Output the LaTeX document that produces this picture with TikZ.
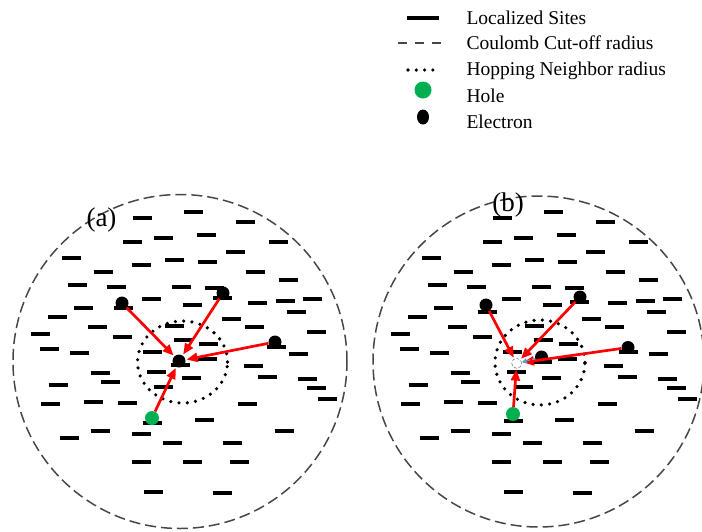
\documentclass[tikz,border=0pt]{standalone}
\usepackage{fontspec}
\setmainfont{Liberation Serif}
\usetikzlibrary{arrows.meta,shapes.geometric}
\definecolor{holegreen}{RGB}{0,176,80}
\definecolor{hopblue}{RGB}{91,155,213}

\begin{document}
\begin{tikzpicture}[x=1pt, y=-1pt,
	every node/.style={font=\fontsize{19.5}{23}\selectfont},
	>={Triangle[length=11pt,width=9pt]},
	site/.style={line width=3.6pt},
	cutoff/.style={black!72, line width=1.5pt, dash pattern=on 11pt off 5pt},
	hopline/.style={line width=3.6pt, line cap=round, dash pattern=on 0pt off 8.3pt},
	electron/.style={ellipse, fill=black, minimum width=13pt, minimum height=13pt, inner sep=0pt},
	hole/.style={circle, fill=holegreen, minimum size=14pt, inner sep=0pt},
	hop/.style={->, red, line width=2.7pt, shorten >=1pt}]
	\useasboundingbox (0,0) rectangle (702,531);

	% legend
	\draw[site, line width=4pt] (407,18) -- (439,18);
	\draw[cutoff, dash pattern=on 9pt off 8pt] (398,43) -- (443,43);
	\draw[hopline] (408,70) -- (434,70);
	\node[hole, minimum size=17pt] (lhole) at (423,90) {};
	\node[electron, minimum width=12pt, minimum height=15pt] (lelec) at (423,117) {};
	\node[anchor=base west] (lsite) at (463,24) {Localized Sites};
	\node[anchor=base west] (lcut) at (463,49) {Coulomb Cut-off radius};
	\node[anchor=base west] (lhop) at (463,75) {Hopping Neighbor radius};
	\node[anchor=base west] (lh) at (463,102) {Hole};
	\node[anchor=base west] (le) at (463,128) {Electron};

	% localized sites, same layout in both panels
	\foreach \dx in {0,360} {
		\foreach \x/\y in {142/218, 193/212, 245/222, 132/242, 163/238, 206/235, 278/242,
			71/258, 141/265, 174/260, 207/262, 235/252, 103/272, 255/272, 77/285, 116/287,
			181/287, 214/288, 288/280, 151/299, 192/305, 257/303, 285/301, 312/299, 83/308,
			296/312, 57/317, 231/319, 97/327, 174/326, 254/327, 316/332, 40/334, 122/337,
			183/340, 208/344, 49/349, 79/353, 298/354, 152/352, 207/359, 253/366, 100/373,
			156/372, 110/382, 191/378, 267/377, 307/379, 58/385, 163/387, 316/388, 327/399,
			50/404, 93/402, 127/403, 247/404, 204/420, 100/431, 284/431, 69/438, 141/434,
			172/443, 232/443, 141/462, 192/462, 239/462, 153/492, 222/493}
			\draw[site] ({\x+\dx-9.5},\y) -- ({\x+\dx+9.5},\y);
	}

	% (a)
	\draw[cutoff] (180,361.5) circle[radius=167pt];
	\draw[hopline] (182.5,362) ellipse[x radius=45pt, y radius=41pt];
	\foreach \x/\y in {123/308, 222/298, 276/347, 152/423, 180/365}
		\draw[site] ({\x-9.5},\y) -- ({\x+9.5},\y);
	\node[electron] (ca) at (179,361) {};
	\node[electron] (ea1) at (122,303) {};
	\node[electron] (ea2) at (223,293) {};
	\node[electron] (ea3) at (275,342) {};
	\node[hole] (ha) at (152,418) {};
	\draw[hop] (ea1) -- (ca);
	\draw[hop] (ea2) -- (ca);
	\draw[hop] (ea3) -- (ca);
	\draw[hop] (ha) -- (ca);
	\node[font=\fontsize{27}{30}\selectfont, anchor=base] (la) at (101.5,226.5) {(a)};

	% (b)
	\draw[cutoff] (538.5,361.5) circle[radius=165.5pt];
	\draw[hopline] (540,362.5) ellipse[x radius=45pt, y radius=42.5pt];
	\foreach \x/\y in {487/312, 579/302, 628/352, 542/362, 513/421}
		\draw[site] ({\x-9.5},\y) -- ({\x+9.5},\y);
	\node[circle, draw=gray, densely dashed, line width=0.6pt, fill=white, minimum size=10pt, inner sep=0pt] (vb) at (516.7,363.3) {};
	\node[electron] (eb4) at (541.5,357) {};
	\node[electron] (eb1) at (486,305) {};
	\node[electron] (eb2) at (580,297) {};
	\node[electron] (eb3) at (628,347.5) {};
	\node[hole] (hb) at (513,414) {};
	\draw[hop] (eb1) -- (vb);
	\draw[hop] (eb2) -- (vb);
	\draw[hop] (eb3) -- (vb);
	\draw[hop] (hb) -- (vb);
	\draw[-{Triangle[length=5pt,width=5pt]}, hopblue, line width=1.2pt, dash pattern=on 3pt off 2pt] (eb4) -- (vb);
	\node[font=\fontsize{27}{30}\selectfont, anchor=base] (lb) at (508,211) {(b)};

\end{tikzpicture}
\end{document}
